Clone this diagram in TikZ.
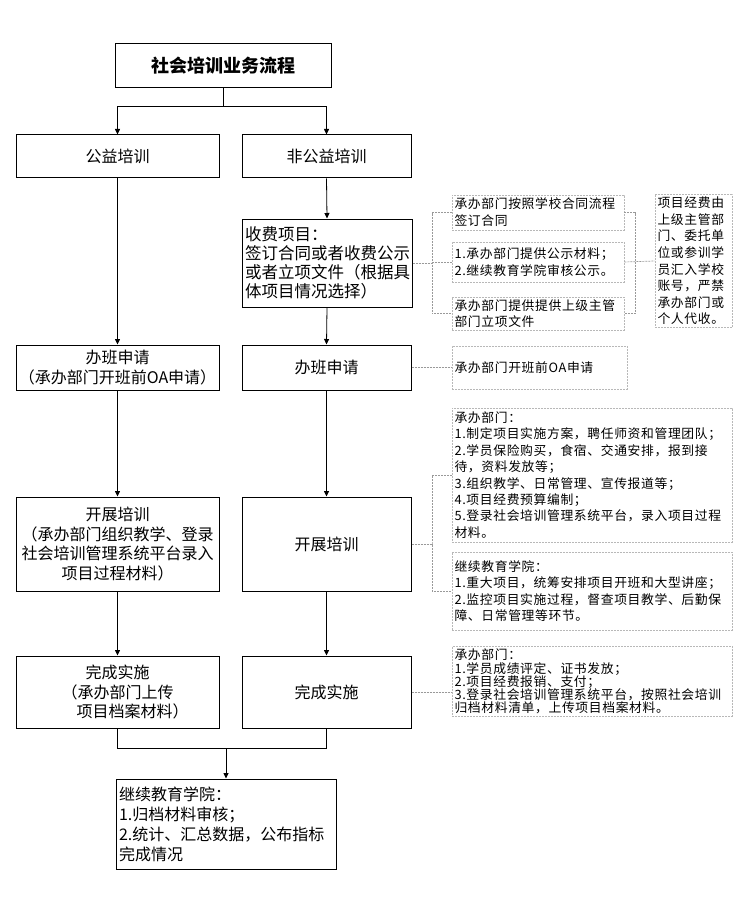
\documentclass[tikz,border=0pt]{standalone}
\usepackage{fontspec}
\newfontfamily\cjk{Noto Sans CJK SC}
\newfontfamily\cjka{Noto Sans CJK SC}[LetterSpace=5]
\usetikzlibrary{arrows.meta}
\begin{document}
\begin{tikzpicture}[x=1pt,y=-1pt,
  mainbox/.style={draw=black,line width=1pt,inner sep=2pt,align=center,
    font=\cjk\fontsize{16}{19.5}\selectfont},
  annbox/.style={draw=black!28,line width=0.7pt,dash pattern=on 2pt off 1pt,
    inner sep=2.5pt,align=left,font=\cjka\fontsize{12.8}{16.4}\selectfont},
  arr/.style={draw=black,line width=0.8pt,-{Triangle[width=5pt,length=5.5pt]}},
  ln/.style={draw=black,line width=0.8pt},
  dl/.style={draw=black!40,line width=0.7pt,dash pattern=on 2pt off 1pt}]
\useasboundingbox (0,0) rectangle (748,920);
\fill[white] (0,0) rectangle (748,920);

% title
\node[mainbox,minimum width=216pt,minimum height=44pt,font=\cjk\bfseries\fontsize{18}{22}\selectfont] (title) at (223,66) {社会培训业务流程};

% main boxes
\node[mainbox,minimum width=203pt,minimum height=43pt] (gy) at (117.5,156.5) {公益培训};
\node[mainbox,minimum width=169pt,minimum height=43pt] (fgy) at (326.5,156.5) {非公益培训};
\node[mainbox,minimum width=170pt,minimum height=88pt,text width=164pt,align=left,
  font=\cjk\fontsize{16.5}{19}\selectfont] (sf) at (327,263)
  {收费项目：\\签订合同或者收费公示\\或者立项文件（根据具\\体项目情况选择）};
\node[mainbox,minimum width=203pt,minimum height=45pt] (bb1) at (117.5,367.5) {办班申请\\（承办部门开班前OA申请）};
\node[mainbox,minimum width=169pt,minimum height=45pt] (bb2) at (326.5,367.5) {办班申请};
\node[mainbox,minimum width=203pt,minimum height=94pt] (kz1) at (117.5,544) {开展培训\\（承办部门组织教学、登录\\社会培训管理系统平台录入\\项目过程材料）};
\node[mainbox,minimum width=169pt,minimum height=94pt] (kz2) at (326.5,544) {开展培训};
\node[mainbox,minimum width=203pt,minimum height=72pt] (wc1) at (117.5,692) {完成实施\\（承办部门上传\\\hspace*{30pt}项目档案材料）};
\node[mainbox,minimum width=169pt,minimum height=72pt] (wc2) at (326.5,692) {完成实施};
\node[mainbox,minimum width=220pt,minimum height=90pt,text width=214pt,align=left,
  font=\cjk\fontsize{16}{20}\selectfont] (fin) at (226,824)
  {继续教育学院：\\1.归档材料审核；\\2.统计、汇总数据，公布指标\\完成情况};

% annotation boxes
\node[annbox,minimum width=172pt,minimum height=35pt,text width=167pt,font=\cjka\fontsize{12.8}{17}\selectfont] (aa) at (538,212.5) {承办部门按照学校合同流程\\签订合同};
\node[annbox,minimum width=172pt,minimum height=40pt,text width=167pt,font=\cjka\fontsize{12.8}{17}\selectfont] (ab) at (538,262) {1.承办部门提供公示材料；\\2.继续教育学院审核公示。};
\node[annbox,minimum width=172pt,minimum height=33pt,text width=167pt,font=\cjka\fontsize{12.8}{15.5}\selectfont] (ac) at (538,313.5) {承办部门提供提供上级主管\\部门立项文件};
\node[annbox,minimum width=77pt,minimum height=132pt,text width=72pt,font=\cjka\fontsize{12.8}{16.6}\selectfont] (ad) at (693.5,261) {项目经费由\\上级主管部\\门、委托单\\位或参训学\\员汇入学校\\账号，严禁\\承办部门或\\个人代收。};
\node[annbox,minimum width=175pt,minimum height=43pt,text width=170pt] (ae) at (539.5,367.5) {承办部门开班前OA申请};
\node[annbox,minimum width=280pt,minimum height=134pt,text width=275pt] (af) at (592,475) {承办部门：\\1.制定项目实施方案，聘任师资和管理团队；\\2.学员保险购买，食宿、交通安排，报到接\\待，资料发放等；\\3.组织教学、日常管理、宣传报道等；\\4.项目经费预算编制；\\5.登录社会培训管理系统平台，录入项目过程\\材料。};
\node[annbox,minimum width=280pt,minimum height=78pt,text width=275pt] (ag) at (592,591) {继续教育学院：\\1.重大项目，统筹安排项目开班和大型讲座；\\2.监控项目实施过程，督查项目教学、后勤保\\障、日常管理等环节。};
\node[annbox,minimum width=280pt,minimum height=69pt,text width=275pt,font=\cjka\fontsize{12.8}{13.2}\selectfont] (ah) at (592,681.5) {承办部门：\\1.学员成绩评定、证书发放；\\2.项目经费报销、支付；\\3.登录社会培训管理系统平台，按照社会培训\\归档材料清单，上传项目档案材料。};

% junction coordinates
\coordinate (j1) at (223,106);
\coordinate (j2) at (226,748);
\coordinate (bl1) at (432,263);
\coordinate (br1) at (635,263);
\coordinate (bl2) at (432,544);

% solid flow
\draw[ln] (title.south) -- (j1);
\draw[arr] (j1) -| (gy.north);
\draw[arr] (j1) -| (fgy.north);
\draw[arr] (gy.south) -- (bb1.north);
\draw[arr] (bb1.south) -- (kz1.north);
\draw[arr] (kz1.south) -- (wc1.north);
\draw[arr] (fgy.south) -- (sf.north);
\draw[arr] (sf.south) -- (bb2.north);
\draw[arr] (bb2.south) -- (kz2.north);
\draw[arr] (kz2.south) -- (wc2.north);
\draw[ln] (wc1.south) |- (j2);
\draw[ln] (wc2.south) |- (j2);
\draw[arr] (j2) -- (fin.north);

% dashed annotation connectors
\draw[dl] (sf.east) -- (bl1);
\draw[dl] (aa.west) -| (bl1) |- (ac.west);
\draw[dl] (ab.west) -- (ab.west -| bl1);
\draw[dl] (aa.east) -| (br1) |- (ac.east);
\draw[dl] (ab.east) -- (ad.west);
\draw[dl] (bb2.east) -- (ae.west);
\draw[dl] (kz2.east) -- (bl2);
\draw[dl] (af.west) -| (bl2) |- (ag.west);
\draw[dl] (wc2.east) -- (wc2.east -| ah.west);
\end{tikzpicture}
\end{document}
